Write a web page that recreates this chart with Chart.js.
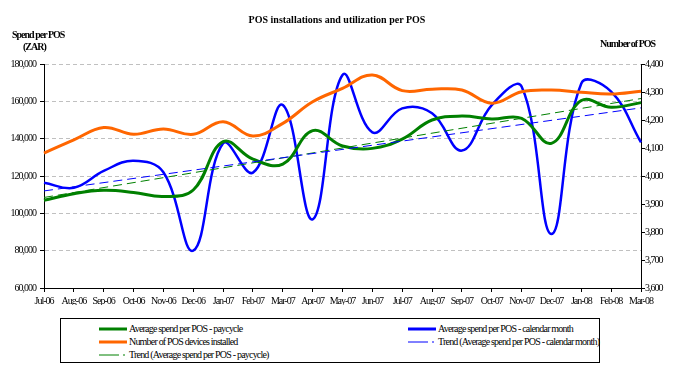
<!DOCTYPE html>
<html><head><meta charset="utf-8">
<script src="https://cdn.jsdelivr.net/npm/chart.js@4/dist/chart.umd.min.js"></script>
<style>
body{margin:0;background:#fff;font-family:"Liberation Serif","Times New Roman",serif;}
#wrap{position:relative;width:674px;height:369px;overflow:hidden;}
#c{position:absolute;left:0;top:0;}
.t{position:absolute;font-weight:bold;font-size:10px;color:#000;white-space:nowrap;line-height:12px;}
#legend{position:absolute;left:60px;top:318px;width:540px;height:45px;border:1px solid #000;box-sizing:border-box;}
.li{position:absolute;font-size:10px;white-space:nowrap;line-height:12px;color:#000;letter-spacing:-0.8px;}
.li svg{position:absolute;left:-30px;top:3px;}
</style>
</head><body>
<div id="wrap">
<canvas id="c" width="674" height="305"></canvas>
<div class="t" style="left:0;width:674px;text-align:center;top:14px;">POS installations and utilization per POS</div>
<div class="t" style="left:12px;top:29px;letter-spacing:-1px;">Spend per POS</div>
<div class="t" style="left:23px;top:41px;letter-spacing:-1px;">(ZAR)</div>
<div class="t" style="left:600px;top:38px;letter-spacing:-1px;">Number of POS</div>
<div id="legend"></div>
</div>
<script>
const categories = ["Jul-06","Aug-06","Sep-06","Oct-06","Nov-06","Dec-06","Jan-07","Feb-07","Mar-07","Apr-07","May-07","Jun-07","Jul-07","Aug-07","Sep-07","Oct-07","Nov-07","Dec-07","Jan-08","Feb-08","Mar-08"];
const spendPaycycle = [107000,110500,112300,111200,109000,112500,138400,129000,126400,144300,136100,134800,139800,150000,152100,150500,150900,137500,160400,156800,159300];
const spendCalendar = [116400,113700,122700,128200,122000,80000,137500,121800,158000,96800,174100,143400,156200,153600,133600,158000,167900,88900,169600,165200,138000];
const posDevices = [4082,4129,4173,4149,4168,4149,4194,4143,4188,4265,4313,4361,4305,4310,4307,4260,4301,4307,4299,4293,4303];
const trendPaycycleEnds = [108500,161500];
const trendCalendarEnds = [112000,156500];
const leftTicks = [60000,180000,20000];
const rightTicks = [3600,4400,100];

const names = {
  pay: "Average spend per POS - paycycle",
  cal: "Average spend per POS - calendar month",
  pos: "Number of POS devices installed",
  tcal: "Trend (Average spend per POS - calendar month)",
  tpay: "Trend (Average spend per POS - paycycle)"
};
function trendSeries(ends){
  const a = categories.map(()=>null);
  a[0] = ends[0]; a[a.length-1] = ends[1];
  return a;
}
const FAM = '"Liberation Serif","Times New Roman",serif';
const narrowText = {id:'narrowText', beforeDraw(chart){ chart.ctx.letterSpacing='-1px'; }};
new Chart(document.getElementById('c'), {
  type:'line',
  plugins:[narrowText],
  data:{labels:categories, datasets:[
    {label:names.tcal, data:trendSeries(trendCalendarEnds), yAxisID:'y', borderColor:'#0000FF', borderWidth:1, borderDash:[9,5], spanGaps:true, pointRadius:0, tension:0},
    {label:names.tpay, data:trendSeries(trendPaycycleEnds), yAxisID:'y', borderColor:'#008000', borderWidth:1, borderDash:[9,5], spanGaps:true, pointRadius:0, tension:0},
    {label:names.pos, data:posDevices, yAxisID:'y1', borderColor:'#FF6600', borderWidth:3, pointRadius:0, tension:0.4},
    {label:names.pay, data:spendPaycycle, yAxisID:'y', borderColor:'#008000', borderWidth:3, pointRadius:0, tension:0.4},
    {label:names.cal, data:spendCalendar, yAxisID:'y', borderColor:'#0000FF', borderWidth:2.5, pointRadius:0, tension:0.4}
  ]},
  options:{
    responsive:false, animation:false, events:[],
    layout:{padding:{top:64,left:0,right:0,bottom:0}},
    plugins:{legend:{display:false}, title:{display:false}, tooltip:{enabled:false}},
    scales:{
      x:{offset:false, afterFit:s=>{s.height=17;},
        grid:{drawOnChartArea:false, drawTicks:true, tickLength:4, tickColor:'#000', offset:false},
        border:{color:'#000', width:1},
        ticks:{font:{family:FAM,size:10}, color:'#000', maxRotation:0, autoSkip:false, padding:3}},
      y:{position:'left', min:leftTicks[0], max:leftTicks[1], afterFit:s=>{s.width=44;},
        grid:{color:'#c0c0c0', lineWidth:1, tickColor:'#000', tickLength:4},
        border:{color:'#000', width:1, dash:[4,3]},
        ticks:{stepSize:leftTicks[2], font:{family:FAM,size:10}, color:'#000', padding:4,
          callback:v=>v.toLocaleString('en-US')}},
      y1:{position:'right', min:rightTicks[0], max:rightTicks[1], afterFit:s=>{s.width=33;},
        grid:{drawOnChartArea:false, tickColor:'#000', tickLength:4},
        border:{color:'#000', width:1},
        ticks:{stepSize:rightTicks[2], font:{family:FAM,size:10}, color:'#000', padding:0,
          callback:v=>v.toLocaleString('en-US')}}
    }
  }
});
// legend
const legendItems = [
  {name:names.pay, color:'#008000', w:3, dash:null, x:68, y:4},
  {name:names.cal, color:'#0000FF', w:3, dash:null, x:377, y:4},
  {name:names.pos, color:'#FF6600', w:3, dash:null, x:68, y:17},
  {name:names.tcal, color:'#0000FF', w:1, dash:'20 4 2 10', x:377, y:17},
  {name:names.tpay, color:'#008000', w:1, dash:'20 4 2 10', x:68, y:30}
];
const lg = document.getElementById('legend');
legendItems.forEach(it=>{
  const d = document.createElement('div');
  d.className='li'; d.style.left=it.x+'px'; d.style.top=it.y+'px';
  d.innerHTML = '<svg width="28" height="6"><line x1="0" y1="3" x2="28" y2="3" stroke="'+it.color+'" stroke-width="'+it.w+'"'+(it.dash?' stroke-dasharray="'+it.dash+'"':'')+'/></svg>';
  d.appendChild(document.createTextNode(it.name));
  lg.appendChild(d);
});
</script>
</body></html>
